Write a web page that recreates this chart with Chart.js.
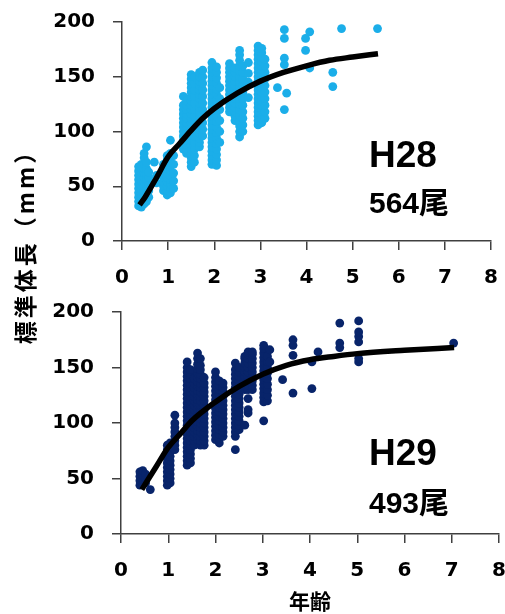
<!DOCTYPE html>
<html>
<head>
<meta charset="utf-8">
<script src="https://cdn.jsdelivr.net/npm/chart.js@4.4.1/dist/chart.umd.min.js"></script>
<style>
    body { margin: 0; background: #fff; }
    #page { position: relative; width: 505px; height: 614px; overflow: hidden; }
    .box { position: absolute; left: 0; width: 505px; }
    .note { position: absolute; font-family: "Liberation Sans", Arial, "Noto Sans CJK JP", sans-serif; font-weight: bold; line-height: 1; color: #000; white-space: nowrap; }
    #yTitle { position: absolute; left: -91px; top: 226px; width: 230px; height: 30px; line-height: 30px; text-align: center;
              transform: rotate(-90deg); font-family: "Noto Sans CJK JP", sans-serif; font-weight: bold; font-size: 23px; letter-spacing: 3px; }
</style>
</head>
<body>
<div id="page">
    <div class="box" style="top:0;height:290px;"><canvas id="chartH28"></canvas></div>
    <div class="box" style="top:290px;height:324px;"><canvas id="chartH29"></canvas></div>
    <div id="yTitle">標準体長（mm）</div>
    <div class="note" style="left:369px;top:136px;font-size:37px;">H28</div>
    <div class="note" style="left:369px;top:188px;font-size:30px;">564尾</div>
    <div class="note" style="left:369px;top:434px;font-size:37px;">H29</div>
    <div class="note" style="left:369px;top:488px;font-size:30px;">493尾</div>
</div>
<script>
'use strict';

// H28: ages of each column of fish, and the body lengths (mm) read in that column
const h28Ages = [0.36, 0.42, 0.48, 0.53, 0.58, 0.70, 0.75, 0.90, 0.98, 1.05, 1.12, 1.33, 1.40, 1.50, 1.57, 1.68, 1.75,
    1.95, 2.05, 2.12, 2.33, 2.45, 2.55, 2.62, 2.74, 2.95, 3.03, 3.10, 3.37, 3.52, 3.57, 3.98, 4.07, 4.57, 4.76, 5.54];
const h28Lengths = [
    [32, 36, 40, 44, 48, 52, 56, 60, 64, 68],
    [31, 35, 39, 43, 47, 51, 55, 59, 63, 67, 70],
    [34, 38, 42, 46, 50, 54, 58, 62, 66, 70, 76, 80],
    [36, 41, 46, 51, 56, 61, 66, 72, 86],
    [40, 46, 52, 58, 63],
    [72],
    [53, 60],
    [46, 50, 54, 58, 62, 66, 70],
    [42, 46, 50, 54, 58, 62, 66, 70, 74, 78],
    [44, 48, 52, 56, 60, 64, 68, 72, 76, 80, 92],
    [48, 55, 62, 70, 78],
    [84, 88, 92, 96, 100, 104, 108, 112, 116, 120, 124, 132],
    [80, 84, 88, 92, 96, 100, 104, 108, 112, 116, 120, 124, 128],
    [68, 72, 76, 80, 84, 88, 92, 96, 100, 104, 108, 112, 116, 120, 124, 128, 132, 136, 140, 144, 148, 152],
    [72, 78, 84, 90, 96, 102, 108, 114, 120, 126, 132, 138, 144, 150],
    [86, 90, 94, 98, 102, 106, 110, 114, 118, 122, 126, 130, 134, 138, 142, 146, 150, 154],
    [96, 102, 108, 114, 120, 126, 132, 138, 144, 150, 156],
    [70, 74, 78, 82, 86, 90, 94, 98, 102, 106, 110, 114, 118, 122, 126, 130, 134, 138, 142, 146, 150, 154, 158, 163],
    [69, 74, 79, 84, 89, 94, 99, 104, 109, 114, 119, 124, 129, 134, 139, 144, 149, 154, 159],
    [90, 100, 110, 120, 130, 140],
    [118, 122, 126, 130, 134, 138, 142, 146, 150, 154, 158, 162],
    [110, 114, 118, 122, 126, 130, 134, 138, 142, 146, 150, 154, 158],
    [95, 100, 105, 110, 115, 120, 125, 130, 135, 140, 145, 150, 155, 160, 165, 170, 174],
    [100, 106, 112, 118, 124, 130, 136, 142, 148, 154, 160],
    [131, 145, 153, 163],
    [106, 110, 114, 118, 122, 126, 130, 134, 138, 142, 146, 150, 154, 158, 162, 166, 170, 174, 178],
    [108, 112, 116, 120, 124, 128, 132, 136, 140, 144, 148, 152, 156, 160, 164, 168, 172, 176],
    [112, 118, 124, 130, 136, 142, 148, 154, 160, 166],
    [140],
    [120, 161, 167, 185, 193],
    [135],
    [174, 185],
    [158, 191],
    [141, 154],
    [194],
    [194]
];
const h28CurveAges = [0.38, 0.5, 0.75, 1, 1.25, 1.5, 1.75, 2, 2.5, 3, 3.5, 4, 4.5, 5, 5.55];
const h28CurveLengths = [33, 40, 58, 77, 89, 101, 112, 121, 135, 146, 154, 160, 165, 168, 171];

// H29
const h29Ages = [0.40, 0.46, 0.52, 0.62, 0.98, 1.04, 1.14, 1.40, 1.47, 1.55, 1.62, 1.68, 1.76, 2.00, 2.08, 2.16,
    2.42, 2.50, 2.62, 2.69, 2.78, 3.02, 3.10, 3.15, 3.42, 3.64, 4.04, 4.17, 4.63, 5.03, 7.04];
const h29Lengths = [
    [44, 48, 52, 56],
    [45, 49, 53, 57],
    [46, 50, 54],
    [40],
    [44, 48, 52, 56, 60, 64, 68, 72, 76, 80],
    [46, 50, 54, 58, 62, 66, 70, 74, 78, 82],
    [76, 80, 84, 88, 92, 96, 100, 107],
    [62, 66, 70, 74, 78, 82, 86, 90, 94, 98, 102, 106, 110, 114, 118, 122, 126, 130, 134, 138, 142, 146, 150, 155],
    [64, 68, 72, 76, 80, 84, 88, 92, 96, 100, 104, 108, 112, 116, 120, 124, 128, 132, 136, 140, 144, 148],
    [80, 84, 88, 92, 96, 100, 104, 108, 112, 116, 120, 124, 128, 132, 136, 140],
    [85, 89, 93, 97, 101, 105, 109, 113, 117, 121, 125, 129, 133, 137, 141, 145, 149, 153, 158, 163],
    [80, 84, 88, 92, 96, 100, 104, 108, 112, 116, 120, 124, 128, 132, 136, 140, 144, 148, 152, 158],
    [80, 84, 88, 92, 96, 100, 104, 108, 112, 116, 120, 124, 128, 132, 136, 141],
    [85, 89, 93, 97, 101, 105, 109, 113, 117, 121, 125, 129, 133, 137, 141, 146],
    [82, 86, 90, 94, 98, 102, 106, 110, 114, 118, 122, 126, 130, 134, 138],
    [88, 92, 96, 100, 104, 108, 112, 116, 120, 124, 128, 132, 136],
    [76, 88, 92, 96, 100, 104, 108, 112, 116, 120, 124, 128, 132, 136, 140, 144, 148, 154],
    [94, 98, 102, 106, 110, 114, 118, 122, 126, 130, 134, 138, 142, 146, 150],
    [98, 130, 134, 138, 142, 146, 150, 154, 158, 160],
    [109, 112, 122, 130, 134, 138, 142, 146, 150, 154, 158, 162, 164],
    [130, 134, 138, 142, 146, 150, 154, 158, 162, 164],
    [102, 119, 123, 127, 131, 135, 139, 143, 147, 151, 155, 159, 163, 167, 170],
    [120, 125, 130, 135, 140, 145, 150, 155, 160],
    [155, 166],
    [139],
    [127, 161, 170, 175],
    [131, 155],
    [164],
    [168, 172, 190],
    [155, 158, 173, 178, 182, 192],
    [172]
];
const h29CurveAges = [0.44, 0.75, 1, 1.25, 1.5, 2, 2.5, 3, 3.5, 4, 4.5, 5, 6, 7.05];
const h29CurveLengths = [40, 61, 78, 90, 102, 119, 133, 144, 152, 157, 160, 162.5, 165.5, 168];

// axis ticks
const xMin = 0, xMax = 8, xStep = 1;
const yMin = 0, yMax = 200, yStep = 50;

const tickFont = { family: '"DejaVu Sans", sans-serif', size: 20, weight: 'bold' };
const axisColor = '#404040';

/**
 * Pair each column age with its lengths
 */
function toPoints(ages, lengths) {
    const pts = [];
    ages.forEach(function(age, i) {
        lengths[i].forEach(function(len) {
            pts.push({ x: age, y: len });
        });
    });
    return pts;
}

function toCurve(ages, lengths) {
    return ages.map((age, i) => ({ x: age, y: lengths[i] }));
}

/**
 * Build one panel
 */
function makePanel(id, points, curve, color, opts) {
    new Chart(document.getElementById(id), {
        type: 'scatter',
        data: {
            datasets: [{
                data: curve,
                type: 'line',
                showLine: true,
                borderColor: '#000',
                borderWidth: 5.5,
                pointRadius: 0,
                cubicInterpolationMode: 'monotone',
                fill: false,
                order: 0
            }, {
                data: points,
                backgroundColor: color,
                borderWidth: 0,
                pointRadius: 4.4,
                order: 1
            }]
        },
        options: {
            responsive: true,
            maintainAspectRatio: false,
            animation: false,
            layout: { padding: opts.padding },
            plugins: { legend: { display: false }, tooltip: { enabled: false } },
            scales: {
                x: {
                    type: 'linear',
                    min: xMin, max: xMax,
                    // fixed box, no automatic label overflow padding
                    afterFit: s => { s.height = opts.xHeight; s.paddingLeft = 0; s.paddingRight = 0; },
                    ticks: { stepSize: xStep, color: '#000', font: tickFont, padding: 16, maxRotation: 0 },
                    grid: { display: true, drawOnChartArea: false, drawTicks: true, tickLength: 9, color: axisColor, lineWidth: 1.5 },
                    border: { display: true, color: axisColor, width: 1.5 },
                    title: opts.xTitle ? {
                        display: true,
                        text: opts.xTitle,
                        color: '#000',
                        font: { family: '"Noto Sans CJK JP", sans-serif', size: 21, weight: 'bold' },
                        padding: { top: 0, bottom: 0 }
                    } : { display: false }
                },
                y: {
                    min: yMin, max: yMax,
                    afterFit: s => { s.width = opts.yWidth; s.paddingTop = 0; s.paddingBottom = 0; },
                    ticks: { stepSize: yStep, color: '#000', font: tickFont, padding: 18 },
                    grid: { display: true, drawOnChartArea: false, drawTicks: true, tickLength: 9, color: axisColor, lineWidth: 1.5 },
                    border: { display: true, color: axisColor, width: 1.5 }
                }
            }
        }
    });
}

makePanel('chartH28', toPoints(h28Ages, h28Lengths), toCurve(h28CurveAges, h28CurveLengths), '#1BAEE9', {
    padding: { top: 22, right: 14, left: 0, bottom: 0 },
    xHeight: 49,
    yWidth: 122
});

makePanel('chartH29', toPoints(h29Ages, h29Lengths), toCurve(h29CurveAges, h29CurveLengths), '#08246A', {
    padding: { top: 22, right: 6, left: 0, bottom: 0 },
    xHeight: 80,
    yWidth: 121,
    xTitle: '年齢'
});
</script>
</body>
</html>
